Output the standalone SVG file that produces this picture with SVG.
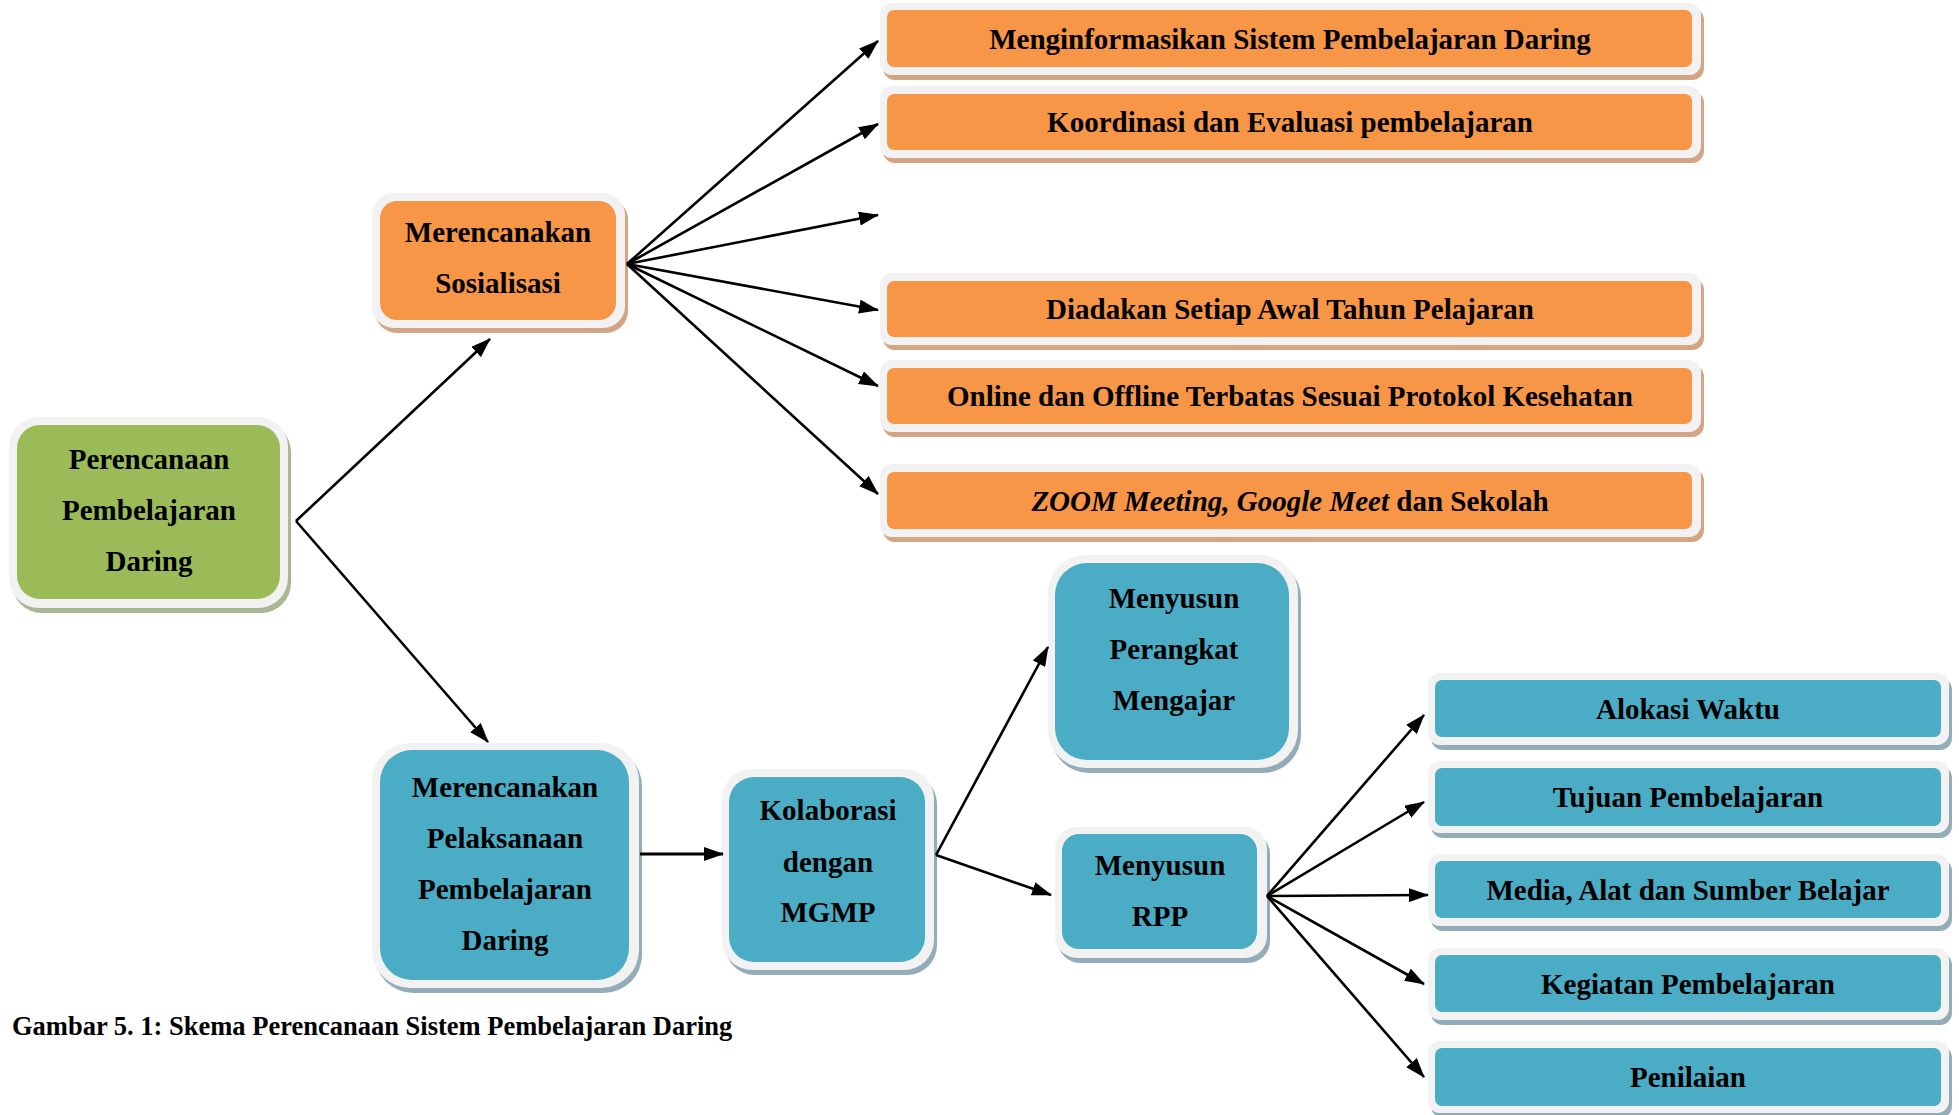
<svg xmlns="http://www.w3.org/2000/svg" width="1959" height="1115" viewBox="0 0 1959 1115">
<style>
.t{font-family:"Liberation Serif","Times New Roman",serif;font-weight:bold;font-size:29px;text-anchor:middle;fill:#000}
.cap{font-family:"Liberation Serif","Times New Roman",serif;font-weight:bold;font-size:26.5px;fill:#000}
.frame{fill:#F2F2F2}
.or{fill:#F79646}.gr{fill:#9BBB59}.te{fill:#4BACC6}
.sor{fill:#D4A584}.sgr{fill:#A8B892}.ste{fill:#93ADB8}
.c{stroke:#000;stroke-width:2.6;fill:none;marker-end:url(#ah)}
</style>
<defs>
<marker id="ah" markerUnits="userSpaceOnUse" markerWidth="20" markerHeight="14" refX="19" refY="7" orient="auto">
<path d="M0,0 L20,7 L0,14 z" fill="#000"/>
</marker>
</defs>
<rect width="1959" height="1115" fill="#fff"/>

<g id="n-perencanaan">
<rect class="sgr" x="12" y="422" width="279" height="191" rx="30"/>
<rect class="frame" x="9" y="417" width="279" height="191" rx="30"/>
<rect class="gr" x="17" y="425" width="263" height="174" rx="23"/>
<text class="t" x="149" y="469">Perencanaan</text>
<text class="t" x="149" y="520">Pembelajaran</text>
<text class="t" x="149" y="571">Daring</text>
</g>

<g id="n-sosialisasi">
<rect class="sor" x="375" y="198" width="253" height="135" rx="22"/>
<rect class="frame" x="372" y="193" width="253" height="135" rx="22"/>
<rect class="or" x="380" y="201" width="236" height="119" rx="17"/>
<text class="t" x="498" y="242">Merencanakan</text>
<text class="t" x="498" y="293">Sosialisasi</text>
</g>

<g id="n-o1">
<rect class="sor" x="883" y="8" width="821" height="72" rx="12"/>
<rect class="frame" x="880" y="3" width="821" height="72" rx="12"/>
<rect class="or" x="887" y="10" width="805" height="57" rx="7"/>
<text class="t" x="1290" y="48.5">Menginformasikan Sistem Pembelajaran Daring</text>
</g>
<g id="n-o2">
<rect class="sor" x="883" y="91" width="821" height="72" rx="12"/>
<rect class="frame" x="880" y="86" width="821" height="72" rx="12"/>
<rect class="or" x="887" y="94" width="805" height="56" rx="7"/>
<text class="t" x="1290" y="132">Koordinasi dan Evaluasi pembelajaran</text>
</g>
<g id="n-o4">
<rect class="sor" x="883" y="278" width="821" height="72" rx="12"/>
<rect class="frame" x="880" y="273" width="821" height="72" rx="12"/>
<rect class="or" x="887" y="281" width="805" height="56" rx="7"/>
<text class="t" x="1290" y="319">Diadakan Setiap Awal Tahun Pelajaran</text>
</g>
<g id="n-o5">
<rect class="sor" x="883" y="365" width="821" height="72" rx="12"/>
<rect class="frame" x="880" y="360" width="821" height="72" rx="12"/>
<rect class="or" x="887" y="368" width="805" height="56" rx="7"/>
<text class="t" x="1290" y="406">Online dan Offline Terbatas Sesuai Protokol Kesehatan</text>
</g>
<g id="n-o6">
<rect class="sor" x="883" y="469" width="821" height="73" rx="12"/>
<rect class="frame" x="880" y="464" width="821" height="73" rx="12"/>
<rect class="or" x="887" y="472" width="805" height="57" rx="7"/>
<text class="t" x="1290" y="510.5"><tspan font-style="italic">ZOOM Meeting, Google Meet</tspan> dan Sekolah</text>
</g>

<g id="n-pelaksanaan">
<rect class="ste" x="375" y="748" width="267" height="245" rx="38"/>
<rect class="frame" x="372" y="743" width="267" height="245" rx="38"/>
<rect class="te" x="380" y="750" width="249" height="230" rx="32"/>
<text class="t" x="505" y="797">Merencanakan</text>
<text class="t" x="505" y="848">Pelaksanaan</text>
<text class="t" x="505" y="899">Pembelajaran</text>
<text class="t" x="505" y="950">Daring</text>
</g>

<g id="n-kolaborasi">
<rect class="ste" x="725" y="774" width="212" height="201" rx="30"/>
<rect class="frame" x="722" y="769" width="212" height="201" rx="30"/>
<rect class="te" x="729" y="777" width="196" height="185" rx="25"/>
<text class="t" x="828" y="820">Kolaborasi</text>
<text class="t" x="828" y="872">dengan</text>
<text class="t" x="828" y="922">MGMP</text>
</g>

<g id="n-perangkat">
<rect class="ste" x="1051" y="560" width="250" height="213" rx="38"/>
<rect class="frame" x="1048" y="555" width="250" height="213" rx="38"/>
<rect class="te" x="1055" y="563" width="234" height="197" rx="32"/>
<text class="t" x="1174" y="608">Menyusun</text>
<text class="t" x="1174" y="659">Perangkat</text>
<text class="t" x="1174" y="710">Mengajar</text>
</g>

<g id="n-rpp">
<rect class="ste" x="1058" y="832" width="212" height="131" rx="22"/>
<rect class="frame" x="1055" y="827" width="212" height="131" rx="22"/>
<rect class="te" x="1062" y="834" width="195" height="115" rx="17"/>
<text class="t" x="1160" y="875">Menyusun</text>
<text class="t" x="1160" y="926">RPP</text>
</g>

<g id="n-t1">
<rect class="ste" x="1431" y="678" width="521" height="72" rx="12"/>
<rect class="frame" x="1428" y="673" width="521" height="72" rx="12"/>
<rect class="te" x="1435" y="680" width="506" height="57" rx="7"/>
<text class="t" x="1688" y="719">Alokasi Waktu</text>
</g>
<g id="n-t2">
<rect class="ste" x="1431" y="766" width="521" height="72" rx="12"/>
<rect class="frame" x="1428" y="761" width="521" height="72" rx="12"/>
<rect class="te" x="1435" y="768" width="506" height="58" rx="7"/>
<text class="t" x="1688" y="807">Tujuan Pembelajaran</text>
</g>
<g id="n-t3">
<rect class="ste" x="1431" y="859" width="521" height="72" rx="12"/>
<rect class="frame" x="1428" y="854" width="521" height="72" rx="12"/>
<rect class="te" x="1435" y="861" width="506" height="57" rx="7"/>
<text class="t" x="1688" y="900">Media, Alat dan Sumber Belajar</text>
</g>
<g id="n-t4">
<rect class="ste" x="1431" y="953" width="521" height="72" rx="12"/>
<rect class="frame" x="1428" y="948" width="521" height="72" rx="12"/>
<rect class="te" x="1435" y="955" width="506" height="57" rx="7"/>
<text class="t" x="1688" y="994">Kegiatan Pembelajaran</text>
</g>
<g id="n-t5">
<rect class="ste" x="1431" y="1046" width="521" height="72" rx="12"/>
<rect class="frame" x="1428" y="1041" width="521" height="72" rx="12"/>
<rect class="te" x="1435" y="1048" width="506" height="58" rx="7"/>
<text class="t" x="1688" y="1087">Penilaian</text>
</g>

<g id="connectors">
<path class="c" d="M296,521 L490,339"/>
<path class="c" d="M296,521 L488,742"/>
<path class="c" d="M627,264 L878,41"/>
<path class="c" d="M627,264 L878,124"/>
<path class="c" d="M627,264 L878,215"/>
<path class="c" d="M627,264 L878,310"/>
<path class="c" d="M627,264 L878,386"/>
<path class="c" d="M627,264 L878,494"/>
<path class="c" d="M640,854 L723,854" style="stroke-width:3.2"/>
<path class="c" d="M936,855 L1048,647"/>
<path class="c" d="M936,855 L1051,895"/>
<path class="c" d="M1267,896 L1424,715"/>
<path class="c" d="M1267,896 L1424,802"/>
<path class="c" d="M1267,896 L1428,895"/>
<path class="c" d="M1267,896 L1424,984"/>
<path class="c" d="M1267,896 L1424,1077"/>
</g>

<text id="caption" class="cap" x="12" y="1035">Gambar 5. 1: Skema Perencanaan Sistem Pembelajaran Daring</text>
</svg>
